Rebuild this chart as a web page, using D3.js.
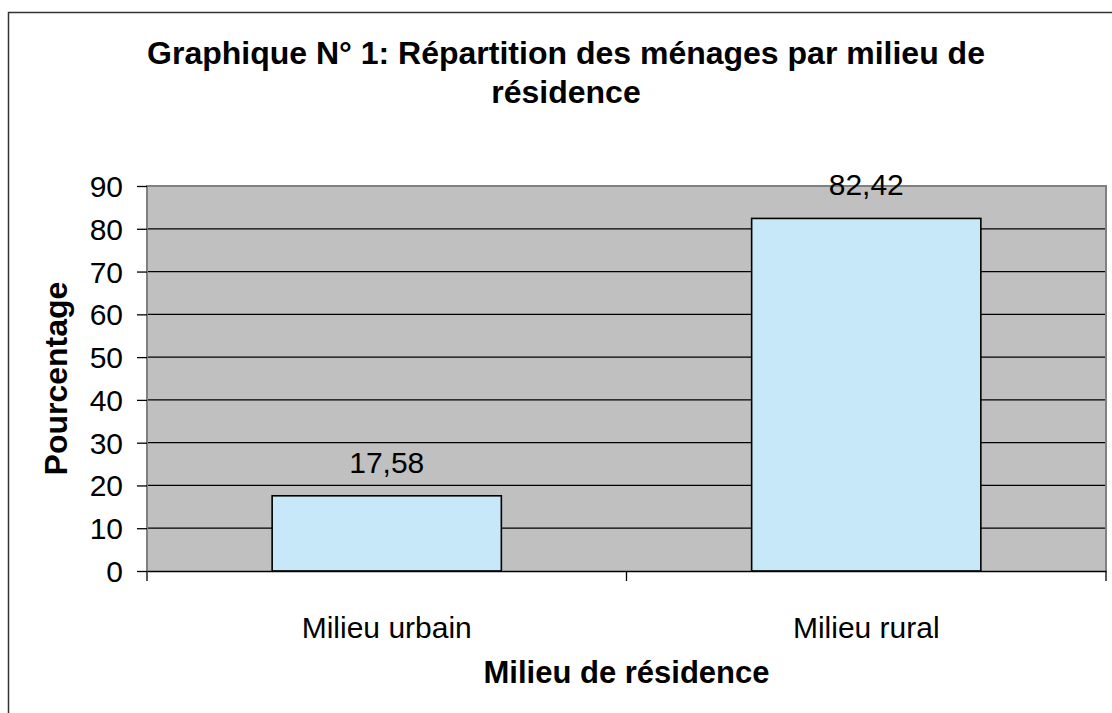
<!DOCTYPE html>
<html>
<head>
<meta charset="utf-8">
<script src="https://cdn.jsdelivr.net/npm/d3@7"></script>
<style>
  body { margin: 0; background: #fff; }
  text { font-family: "Liberation Sans", Arial, sans-serif; fill: #000; }
</style>
</head>
<body>
<script>
// chart data
var categories = ["Milieu urbain", "Milieu rural"];
var values = [17.58, 82.42];
var valueLabels = ["17,58", "82,42"];
var yTicks = [0, 10, 20, 30, 40, 50, 60, 70, 80, 90];
var titleLines = ["Graphique N° 1: Répartition des ménages par milieu de", "résidence"];

var W = 1112, H = 713;
var plot = {left: 147, top: 186, right: 1106, bottom: 571};

var svg = d3.select("body").append("svg")
  .attr("width", W)
  .attr("height", H);

// outer frame (runs off the right and bottom edges)
svg.append("rect")
  .attr("x", 8.5).attr("y", 12.5)
  .attr("width", W + 10).attr("height", H + 10)
  .style("fill", "#fff")
  .style("stroke", "#333")
  .style("stroke-width", 1.5);

var x = d3.scaleBand()
  .domain(categories)
  .range([plot.left, plot.right])
  .padding(0);

var y = d3.scaleLinear()
  .domain([0, 90])
  .range([plot.bottom, plot.top]);

// plot background
svg.append("rect")
  .attr("x", plot.left).attr("y", plot.top)
  .attr("width", plot.right - plot.left)
  .attr("height", plot.bottom - plot.top)
  .style("fill", "#c0c0c0");

// gridlines
svg.selectAll(".grid")
  .data(yTicks.filter(function(d) { return d > 0 && d < 90; }))
  .enter().append("line")
  .attr("x1", plot.left).attr("x2", plot.right)
  .attr("y1", function(d) { return y(d); })
  .attr("y2", function(d) { return y(d); })
  .style("stroke", "#000")
  .style("stroke-width", 1.3);

// plot border left/top/right
svg.append("path")
  .attr("d", "M" + plot.left + "," + plot.bottom + "V" + plot.top + "H" + plot.right + "V" + plot.bottom)
  .style("fill", "none")
  .style("stroke", "#808080")
  .style("stroke-width", 2);

// bars
var barW = x.bandwidth() * 0.478;
svg.selectAll(".bar")
  .data(values)
  .enter().append("rect")
  .attr("x", function(d, i) { return x(categories[i]) + x.bandwidth() / 2 - barW / 2; })
  .attr("y", function(d) { return y(d); })
  .attr("width", barW)
  .attr("height", function(d) { return y(0) - y(d); })
  .style("fill", "#c6e8f8")
  .style("stroke", "#000")
  .style("stroke-width", 1.6);

// value labels
svg.selectAll(".vlab")
  .data(values)
  .enter().append("text")
  .attr("x", function(d, i) { return x(categories[i]) + x.bandwidth() / 2; })
  .attr("y", function(d) { return y(d) - 23; })
  .attr("text-anchor", "middle")
  .style("font-size", "30px")
  .text(function(d, i) { return valueLabels[i]; });

// y axis
var yAxis = svg.append("g")
  .attr("transform", "translate(" + plot.left + ",0)")
  .call(d3.axisLeft(y).tickValues(yTicks).tickSize(10).tickPadding(14).tickFormat(d3.format("d")));
yAxis.select(".domain").remove();
yAxis.selectAll("line").style("stroke", "#000").style("stroke-width", 1.3);
yAxis.selectAll("text").style("font-size", "30px").style("font-family", "Liberation Sans, Arial, sans-serif").attr("dy", "0.35em");

// x axis
var xAxis = svg.append("g")
  .attr("transform", "translate(0," + plot.bottom + ")")
  .call(d3.axisBottom(x).tickSize(0).tickPadding(46));
xAxis.select(".domain").style("stroke", "#000").style("stroke-width", 1.6);
xAxis.selectAll("text").style("font-size", "30px").style("font-family", "Liberation Sans, Arial, sans-serif");
// tick marks between categories
var bounds = [plot.left, x(categories[1]), plot.right];
xAxis.selectAll(".sep")
  .data(bounds)
  .enter().append("line")
  .attr("x1", function(d) { return d; }).attr("x2", function(d) { return d; })
  .attr("y1", 0).attr("y2", 10)
  .style("stroke", "#000")
  .style("stroke-width", 1.3);

// title
svg.selectAll(".title")
  .data(titleLines)
  .enter().append("text")
  .attr("x", 566)
  .attr("y", function(d, i) { return 64 + i * 39; })
  .attr("text-anchor", "middle")
  .style("font-size", "32px")
  .style("font-weight", "bold")
  .text(function(d) { return d; });

// axis titles
svg.append("text")
  .attr("x", (plot.left + plot.right) / 2)
  .attr("y", 683)
  .attr("text-anchor", "middle")
  .style("font-size", "31px")
  .style("font-weight", "bold")
  .text("Milieu de résidence");

svg.append("text")
  .attr("transform", "translate(67," + ((plot.top + plot.bottom) / 2) + ") rotate(-90)")
  .attr("text-anchor", "middle")
  .style("font-size", "32px")
  .style("font-weight", "bold")
  .text("Pourcentage");
</script>
</body>
</html>
